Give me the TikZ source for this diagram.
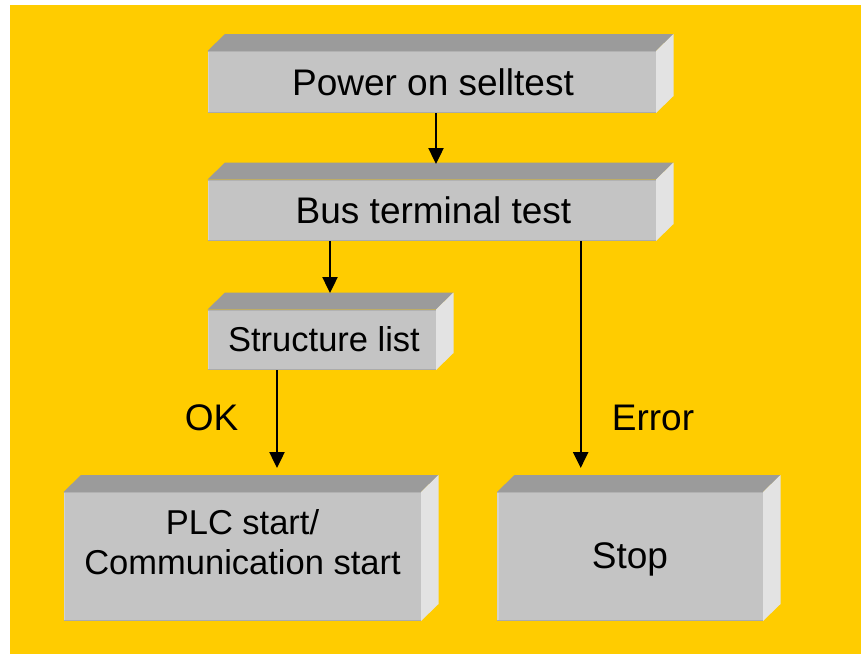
\documentclass[tikz,border=0pt]{standalone}
\usepackage{fontspec}
\setmainfont{Liberation Sans}
\usetikzlibrary{arrows.meta,calc,fit}
\definecolor{bg}{HTML}{FFCC00}
\definecolor{frontc}{HTML}{C4C4C4}
\definecolor{topc}{HTML}{9B9B9B}
\definecolor{sidec}{HTML}{E3E3E3}
\definecolor{edgel}{HTML}{D2D2D2}
\definecolor{edged}{HTML}{ABABAB}
% #1 name, #2 x1, #3 y1, #4 x2, #5 y2 (front face)
\newcommand\threedbox[5]{%
  \fill[topc] (#2,#3) -- (#2+17.5,#3-17) -- (#4+17.5,#3-17) -- (#4,#3) -- cycle;
  \fill[sidec] (#4,#3) -- (#4+17.5,#3-17) -- (#4+17.5,#5-17) -- (#4,#5) -- cycle;
  \node[fit={(#2,#3) (#4,#5)}, inner sep=0pt, fill=frontc] (#1) {};
  \draw[edgel, line width=1.5pt] (#2+0.75,#3) -- (#2+0.75,#5);
  \draw[edged, line width=1.5pt] (#2,#5-0.75) -- (#4,#5-0.75);
  \draw[edged!70!frontc, line width=1pt] (#2,#3+0.5) -- (#4,#3+0.5);
}
\begin{document}
\begin{tikzpicture}[x=1pt,y=-1pt,
  big/.style={font=\fontsize{37}{42}\selectfont, inner sep=0pt, anchor=base},
  small/.style={font=\fontsize{34.5}{40}\selectfont, inner sep=0pt, anchor=base, align=center},
  arr/.style={line width=2.4pt, -{Triangle[width=15pt,length=16pt]}}]
\useasboundingbox (0,0) rectangle (861,654);
\fill[white] (0,0) rectangle (861,654);
\fill[bg] (10,5) rectangle (861,654);

\threedbox{power}{207.5}{51}{656}{113}
\threedbox{bus}{207.5}{179.5}{656}{241}
\threedbox{struct}{207.5}{309.5}{436}{370}
\threedbox{plc}{63.5}{492}{421}{621}
\threedbox{stop}{497}{492}{763}{621}

\node[big] (powert) at (433,95) {Power on selltest};
\node[big] (bust) at (433.5,223) {Bus terminal test};
\node[small] (structt) at (324,351.5) {Structure list};
\node[small, anchor=base] (plct1) at (242.5,534) {PLC start/};
\node[small, anchor=base] (plct2) at (242.5,574) {Communication start};
\node[big] (stopt) at (630,568) {Stop};
\node[big] (ok) at (211.5,430) {OK};
\node[big] (err) at (653,430) {Error};

\coordinate (e1) at (436,164);
\coordinate (e2) at (330,293);
\coordinate (e3) at (277,468);
\coordinate (e4) at (580.7,468);

\draw[arr] (e1 |- power.south) -- (e1);
\draw[arr] (e2 |- bus.south) -- (e2);
\draw[arr] (e3 |- struct.south) -- (e3);
\draw[arr] (e4 |- bus.south) -- (e4);
\end{tikzpicture}
\end{document}
